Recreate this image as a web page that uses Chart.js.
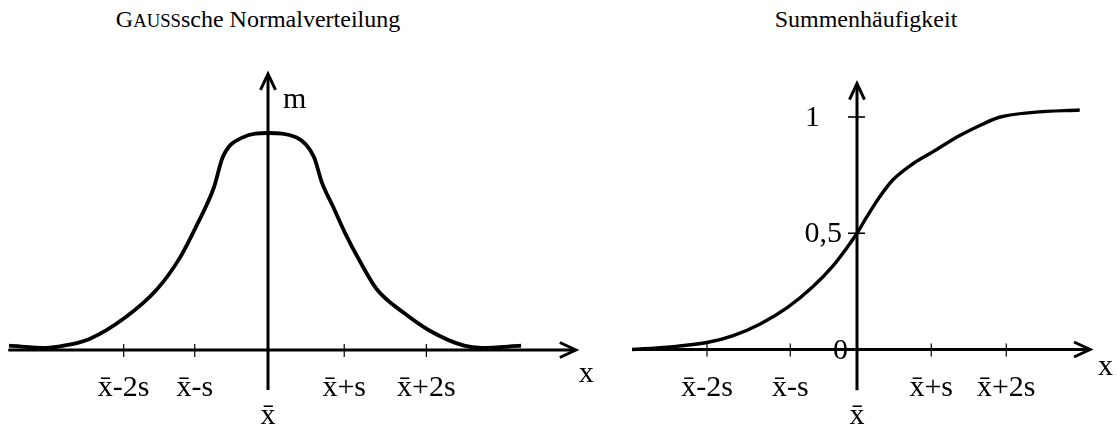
<!DOCTYPE html>
<html>
<head>
<meta charset="utf-8">
<script src="https://cdn.jsdelivr.net/npm/chart.js@4/dist/chart.umd.min.js"></script>
<style>
html,body{margin:0;padding:0;background:#fff;width:1117px;height:427px;overflow:hidden;}
.title{position:absolute;top:4px;font-family:"Liberation Serif","Times New Roman",serif;font-size:24px;line-height:30px;color:#000;white-space:nowrap;text-align:center;}
#t1{left:0;width:516px;}
#t2{left:600px;width:532px;}
.sc{font-size:0.78em;}
.wrap{position:absolute;top:0;height:427px;}
#w1{left:0;width:600px;}
#w2{left:600px;width:517px;}
</style>
</head>
<body>
<div class="title" id="t1">G<span class="sc">AUSS</span>sche Normalverteilung</div>
<div class="title" id="t2">Summenhäufigkeit</div>
<div class="wrap" id="w1"><canvas id="c1" width="600" height="427"></canvas></div>
<div class="wrap" id="w2"><canvas id="c2" width="517" height="427"></canvas></div>
<script>
// ---- data (x in units of s around the mean x̄) ----
const gaussX = [-3.50,-3.00,-2.76,-2.42,-1.93,-1.50,-1.20,-0.97,-0.73,-0.61,-0.34,0.00,0.38,0.62,0.73,0.88,1.04,1.24,1.47,1.84,2.18,2.65,2.89,3.42];
const gaussM = [0.02,0.01,0.02,0.05,0.15,0.28,0.42,0.57,0.75,0.89,0.98,1.00,0.98,0.89,0.77,0.66,0.54,0.41,0.28,0.17,0.09,0.02,0.01,0.02];

const cumX = [-3.00,-2.53,-2.00,-1.65,-1.29,-0.93,-0.59,-0.32,-0.13,0.00,0.13,0.31,0.48,0.75,1.01,1.37,1.68,1.91,2.35,2.97];
const cumF = [0.00,0.01,0.03,0.06,0.11,0.18,0.27,0.36,0.44,0.50,0.57,0.66,0.73,0.80,0.85,0.92,0.97,1.00,1.02,1.03];

const gaussTickPos = [-1.95,-0.99,0,1.03,2.14];
const cumTickPos   = [-2.00,-0.89,0,0.99,1.99];
const tickLabels   = ['x\u0304-2s','x\u0304-s','x\u0304','x\u0304+s','x\u0304+2s'];
const cumYTickPos  = [0,0.5,1];
const cumYLabels   = ['0','0,5','1'];
const gaussYName = 'm';
const xName = 'x';

const FONT = '30px "Liberation Serif", "Times New Roman", serif';

const axesPlugin = {
  id: 'axesDraw',
  afterDatasetsDraw(chart, args, o) {
    const ctx = chart.ctx;
    const sx = chart.scales.x, sy = chart.scales.y;
    const px = v => sx.getPixelForValue(v), py = v => sy.getPixelForValue(v);
    ctx.save();
    ctx.strokeStyle = '#000'; ctx.fillStyle = '#000';
    ctx.lineJoin = 'miter'; ctx.lineCap = 'butt';
    const ay = py(0), ax = px(0);
    // x axis
    const xa = px(o.xRange[0]), xb = px(o.xRange[1]);
    ctx.lineWidth = 3;
    ctx.beginPath(); ctx.moveTo(xa, ay); ctx.lineTo(xb - 2, ay); ctx.stroke();
    ctx.beginPath(); ctx.moveTo(xb - 16, ay - 7.5); ctx.lineTo(xb, ay); ctx.lineTo(xb - 16, ay + 7.5); ctx.stroke();
    // y axis
    const ya = py(o.yRange[0]), yb = py(o.yRange[1]);
    ctx.beginPath(); ctx.moveTo(ax, ya); ctx.lineTo(ax, yb + 2); ctx.stroke();
    ctx.beginPath(); ctx.moveTo(ax - 7.5, yb + 16); ctx.lineTo(ax, yb); ctx.lineTo(ax + 7.5, yb + 16); ctx.stroke();
    // x ticks
    ctx.lineWidth = 1.2;
    o.xTicks.forEach(v => {
      if (v === 0) return;
      const tx = px(v);
      ctx.beginPath(); ctx.moveTo(tx, ay - 6); ctx.lineTo(tx, ay + 7); ctx.stroke();
    });
    // y ticks
    (o.yTicks || []).forEach(v => {
      if (v === 0) return;
      const ty = py(v);
      ctx.lineWidth = 1.6;
      ctx.beginPath(); ctx.moveTo(ax - 9, ty); ctx.lineTo(ax + 8, ty); ctx.stroke();
    });
    // labels
    ctx.font = FONT;
    ctx.textBaseline = 'alphabetic';
    ctx.textAlign = 'center';
    o.xTicks.forEach((v, i) => {
      ctx.fillText(o.xLabels[i], px(v), v === 0 ? ay + 74 : ay + 46);
    });
    ctx.textAlign = 'right';
    (o.yTicks || []).forEach((v, i) => {
      const off = o.yLabelOffsets[i];
      ctx.fillText(o.yLabels[i], ax + off, py(v) + 9);
    });
    ctx.textAlign = 'left';
    ctx.fillText(o.xName, xb + o.xNameDx, ay + o.xNameDy);
    if (o.yName) ctx.fillText(o.yName, ax + 15, yb + 34);
    ctx.restore();
  }
};

function makeChart(id, xs, ys, scaleX, scaleY, axOpts, lw) {
  return new Chart(document.getElementById(id), {
    type: 'line',
    data: {
      datasets: [{
        data: xs.map((v, i) => ({x: v, y: ys[i]})),
        borderColor: '#000',
        borderWidth: lw,
        pointRadius: 0,
        fill: false,
        cubicInterpolationMode: 'monotone'
      }]
    },
    options: {
      responsive: false,
      animation: false,
      devicePixelRatio: 1,
      layout: {padding: 0},
      scales: {
        x: {type: 'linear', display: false, min: scaleX[0], max: scaleX[1]},
        y: {type: 'linear', display: false, min: scaleY[0], max: scaleY[1]}
      },
      plugins: {legend: {display: false}, title: {display: false}, tooltip: {enabled: false}, axesDraw: axOpts}
    },
    plugins: [axesPlugin]
  });
}

makeChart('c1', gaussX, gaussM, [-3.6216, 4.4865], [-0.3548, 1.6129], {
  xRange: [-3.51, 4.16], yRange: [-0.184, 1.272],
  xTicks: gaussTickPos, xLabels: tickLabels,
  xName: xName, xNameDx: 3, xNameDy: 32, yName: gaussYName
}, 3.8);

makeChart('c2', cumX, cumF, [-3.4267, 3.4667], [-0.3333, 1.5032], {
  xRange: [-3.00, 3.107], yRange: [-0.175, 1.144],
  xTicks: cumTickPos, xLabels: tickLabels,
  yTicks: cumYTickPos, yLabels: cumYLabels, yLabelOffsets: [-9, -15, -37],
  xName: xName, xNameDx: 8, xNameDy: 25, yName: null
}, 3.4);
</script>
</body>
</html>
